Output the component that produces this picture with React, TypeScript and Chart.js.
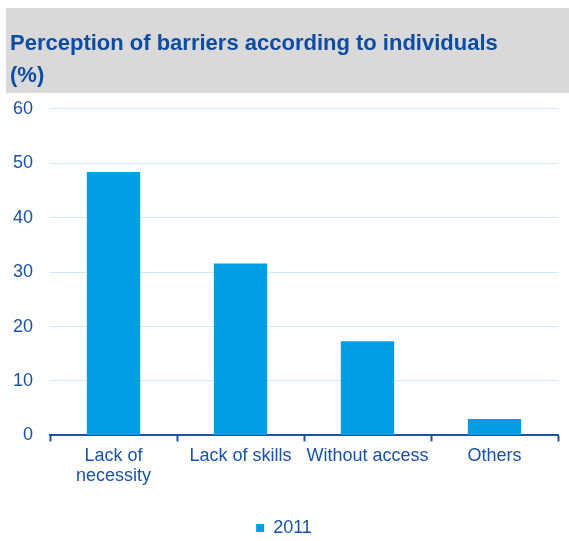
import React, { useEffect, useRef } from "react";
import { Chart, registerables } from "chart.js";

Chart.register(...registerables);

const categories: (string | string[])[] = [["Lack of", "necessity"], "Lack of skills", "Without access", "Others"];
const values2011: number[] = [48.4, 31.6, 17.3, 3.0];
const seriesLabel = "2011";
const titleLines = ["Perception of barriers according to individuals", "(%)"];
const yMin = 0;
const yMax = 60;
const yStep = 10;

const FONT = "'Liberation Sans', Arial, sans-serif";
const TEXT_BLUE = "#1A52A6";
const TITLE_BLUE = "#0D4DA1";
const BAR = "#009FE3";
const GRID = "#CBEAF7";
const AXIS = "#1A52A6";

const greyBox = {
  id: "greyBox",
  beforeDraw(chart: any) {
    const ctx = chart.ctx;
    ctx.save();
    ctx.fillStyle = "#D9D9D9";
    ctx.fillRect(6, 8, chart.width - 6, 85);
    ctx.restore();
  },
};

export default function App() {
  const ref = useRef<HTMLCanvasElement | null>(null);
  useEffect(() => {
    if (!ref.current) return;
    const chart = new Chart(ref.current, {
      type: "bar",
      data: {
        labels: categories as any,
        datasets: [
          {
            label: seriesLabel,
            data: values2011,
            backgroundColor: BAR,
            borderWidth: 0,
            categoryPercentage: 1,
            barPercentage: 0.42,
          },
        ],
      },
      plugins: [greyBox],
      options: {
        responsive: false,
        animation: false,
        layout: { padding: { left: 10, right: 11, top: 0, bottom: -6 } },
        plugins: {
          title: {
            display: true,
            text: titleLines,
            align: "start",
            color: TITLE_BLUE,
            font: { family: FONT, size: 22, weight: "bold", lineHeight: 1.45 },
            padding: { top: 28, bottom: 17 },
          },
          legend: {
            display: true,
            position: "bottom",
            labels: {
              boxWidth: 8,
              boxHeight: 8,
              color: TEXT_BLUE,
              font: { family: FONT, size: 18 },
              padding: 2,
            },
          },
          tooltip: { enabled: false },
        },
        scales: {
          x: {
            afterFit(scale: any) {
              scale.height += 26;
            },
            grid: {
              display: true,
              drawOnChartArea: false,
              drawTicks: true,
              tickLength: 6,
              tickWidth: 2,
              tickColor: AXIS,
              offset: true,
            },
            border: { display: true, color: AXIS, width: 2 },
            ticks: {
              color: TEXT_BLUE,
              font: { family: FONT, size: 18, lineHeight: 1.1 },
              padding: 5,
              maxRotation: 0,
              autoSkip: false,
            },
          },
          y: {
            min: yMin,
            max: yMax,
            afterFit(scale: any) {
              scale.width = 40;
            },
            grid: { color: GRID, lineWidth: 1, drawTicks: false },
            border: { display: false },
            ticks: {
              stepSize: yStep,
              color: TEXT_BLUE,
              font: { family: FONT, size: 18 },
              padding: 17,
            },
          },
        },
      },
    } as any);
    return () => chart.destroy();
  }, []);
  return (
    <div style={{ position: "absolute", left: 0, top: 0, width: 569, height: 541, background: "#fff" }}>
      <canvas ref={ref} width={569} height={541} style={{ display: "block" }} />
    </div>
  );
}
